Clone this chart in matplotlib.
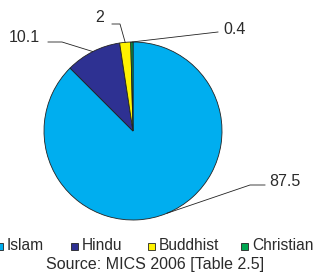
import numpy as np
import matplotlib
matplotlib.use("Agg")
from matplotlib import pyplot as plt
from matplotlib.patches import Rectangle

religions = ["Islam", "Hindu", "Buddhist", "Christian"]
shares = [87.5, 10.1, 2.0, 0.4]
share_labels = ["87.5", "10.1", "2", "0.4"]
colors = ["#00AEEF", "#2E3192", "#FFF200", "#00A651"]
source = "Source: MICS 2006 [Table 2.5]"

plt.rcParams["font.family"] = ["Liberation Sans", "DejaVu Sans"]

W, H = 316, 276
fig = plt.figure(figsize=(W / 100, H / 100), dpi=100)
ax = fig.add_axes([0, 0, 1, 1])

cx, cy, r = 133, H - 131, 89
wedges, _ = ax.pie(shares, colors=colors, startangle=90, counterclock=False,
                   center=(cx, cy), radius=r, frame=True,
                   wedgeprops=dict(edgecolor="#222222", linewidth=0.6))
ax.set_xlim(0, W)
ax.set_ylim(0, H)
ax.set_aspect("equal")
ax.axis("off")

# label text positions (pixel coords from top) and elbow points
label_pos = [(285, 181), (24, 37), (100, 18), (235, 29)]
elbows = [[(250, 185), (265, 185)], [(62, 42), (48, 42)], [(120, 24), (112, 24)], [(218, 32)]]
for w, lab, (tx, ty), elb in zip(wedges, share_labels, label_pos, elbows):
    mid = np.deg2rad((w.theta1 + w.theta2) / 2)
    px, py = cx + r * np.cos(mid), cy + r * np.sin(mid)
    xs = [px] + [e[0] for e in elb]
    ys = [py] + [H - e[1] for e in elb]
    ax.plot(xs, ys, color="#222222", lw=0.6)
    ax.text(tx, H - ty, lab, ha="center", va="center", fontsize=11.5, color="#2b2b2b")

# legend drawn by hand, first item partly off the left edge as in the original
leg_x = [-4, 71, 148, 241]
leg_y = H - 246
for x0, name, c in zip(leg_x, religions, colors):
    ax.add_patch(Rectangle((x0, leg_y - 3.5), 7, 7, facecolor=c, edgecolor="#222222",
                           linewidth=0.6, clip_on=False))
    ax.text(x0 + 11, leg_y, name, ha="left", va="center", fontsize=11.2, color="#2b2b2b")

fig.text(155 / W, 1 - 265 / H, source, ha="center", va="center", fontsize=11.5, color="#2b2b2b")

fig.savefig("out.png", dpi=100)
